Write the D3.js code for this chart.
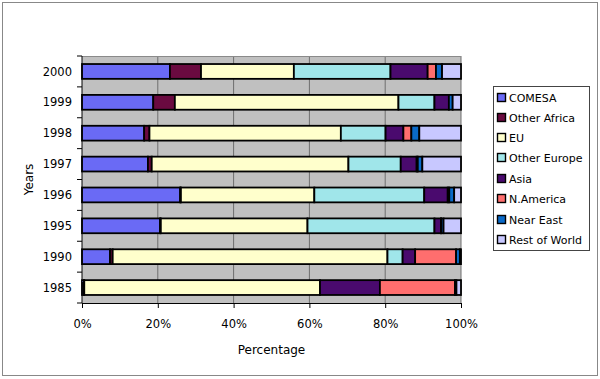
<!DOCTYPE html>
<html>
<head>
<meta charset="utf-8">
<script src="https://cdn.jsdelivr.net/npm/d3@7"></script>
<style>
  body { margin: 0; background: #fff; }
  svg { display: block; font-family: "DejaVu Sans", sans-serif; }
</style>
</head>
<body>
<svg width="600" height="379"></svg>
<script>
"use strict";

var years = ["2000", "1999", "1998", "1997", "1996", "1995", "1990", "1985"];
var regions = ["COMESA", "Other Africa", "EU", "Other Europe", "Asia", "N.America", "Near East", "Rest of World"];
var colours = ["#6a6af5", "#6a0a40", "#ffffcc", "#a0e6ea", "#4a0a6e", "#ff6e6e", "#0a6ac8", "#c8c8ff"];
var xTicks = [0, 0.2, 0.4, 0.6, 0.8, 1];

// percentage share of each region, one array per region, in years order
var comesa      = [23.2, 18.8, 16.4, 17.4, 25.9, 20.6, 7.4, 0.5];
var otherAfrica = [8.2, 5.7, 1.4, 1.0, 0.2, 0.2, 0.7, 0.1];
var eu          = [24.5, 59.0, 50.5, 51.9, 35.2, 38.7, 72.5, 62.2];
var otherEurope = [25.5, 9.5, 11.8, 13.8, 29.0, 33.5, 4.0, 0.0];
var asia        = [9.8, 3.8, 4.7, 4.2, 6.2, 1.7, 3.3, 15.8];
var nAmerica    = [2.2, 0.0, 2.1, 0.3, 0.4, 0.1, 10.8, 19.8];
var nearEast    = [1.6, 1.0, 2.1, 1.2, 1.3, 0.6, 1.0, 0.4];
var restOfWorld = [5.0, 2.2, 11.0, 10.2, 1.8, 4.6, 0.3, 1.2];

var series = [comesa, otherAfrica, eu, otherEurope, asia, nAmerica, nearEast, restOfWorld];

var table = years.map(function (y, i) {
    var row = { year: y };
    regions.forEach(function (r, j) { row[r] = series[j][i]; });
    return row;
});

var stacked = d3.stack().keys(regions).offset(d3.stackOffsetExpand)(table);

var svg = d3.select("svg");

// outer frame
svg.append("rect")
    .attr("x", 2.5).attr("y", 2.5)
    .attr("width", 595).attr("height", 373)
    .attr("fill", "#fff")
    .attr("stroke", "#888")
    .attr("stroke-width", 1);

var plotLeft = 82, plotRight = 461, plotTop = 56, plotBottom = 303;

var x = d3.scaleLinear().domain([0, 1]).range([plotLeft, plotRight]);
var y = d3.scaleBand().domain(years).range([plotTop, plotBottom]).paddingInner(0.52).paddingOuter(0.26);

// plot background
svg.append("rect")
    .attr("x", plotLeft).attr("y", plotTop)
    .attr("width", plotRight - plotLeft).attr("height", plotBottom - plotTop)
    .attr("fill", "#c0c0c0");

// gridlines
svg.append("g")
    .selectAll("line")
    .data(xTicks.slice(1))
    .enter()
    .append("line")
    .attr("x1", function (d) { return x(d); })
    .attr("x2", function (d) { return x(d); })
    .attr("y1", plotTop)
    .attr("y2", plotBottom)
    .attr("stroke", "#6e6e6e")
    .attr("stroke-width", 1);

svg.append("line")
    .attr("x1", plotLeft).attr("x2", plotRight)
    .attr("y1", plotTop + 0.5).attr("y2", plotTop + 0.5)
    .attr("stroke", "#8a8a8a");

// bars
svg.append("g")
    .selectAll("g")
    .data(stacked)
    .enter()
    .append("g")
    .attr("fill", function (d, i) { return colours[i]; })
    .selectAll("rect")
    .data(function (d) { return d; })
    .enter()
    .append("rect")
    .attr("x", function (d) { return x(d[0]); })
    .attr("y", function (d) { return y(d.data.year); })
    .attr("width", function (d) { return Math.max(0, x(d[1]) - x(d[0])); })
    .attr("height", y.bandwidth())
    .attr("stroke", "#000")
    .attr("stroke-width", 1.8);

// y axis: ticks between categories
var yBounds = d3.range(years.length + 1).map(function (i) {
    return plotTop + i * (plotBottom - plotTop) / years.length;
});
svg.append("line")
    .attr("x1", plotLeft).attr("x2", plotLeft)
    .attr("y1", plotTop).attr("y2", plotBottom)
    .attr("stroke", "#000");
svg.append("g")
    .selectAll("line")
    .data(yBounds)
    .enter()
    .append("line")
    .attr("x1", plotLeft - 5).attr("x2", plotLeft)
    .attr("y1", function (d) { return d; })
    .attr("y2", function (d) { return d; })
    .attr("stroke", "#000");
svg.append("g")
    .selectAll("text")
    .data(years)
    .enter()
    .append("text")
    .attr("x", plotLeft - 10)
    .attr("y", function (d) { return y(d) + y.bandwidth() / 2; })
    .attr("dy", "0.36em")
    .attr("text-anchor", "end")
    .attr("font-size", 11.5)
    .text(function (d) { return d; });

// x axis
var xAxis = d3.axisBottom(x)
    .tickValues(xTicks)
    .tickFormat(d3.format(".0%"))
    .tickSize(5)
    .tickPadding(12);
var gx = svg.append("g")
    .attr("transform", "translate(0," + plotBottom + ")")
    .call(xAxis);
gx.select(".domain").attr("stroke", "#000");
gx.selectAll("text")
    .attr("font-size", 11.5)
    .attr("font-family", "DejaVu Sans, sans-serif")
    .attr("fill", "#000");

// axis titles
svg.append("text")
    .attr("x", (plotLeft + plotRight) / 2)
    .attr("y", 354)
    .attr("text-anchor", "middle")
    .attr("font-size", 12)
    .text("Percentage");
svg.append("text")
    .attr("transform", "translate(33," + ((plotTop + plotBottom) / 2) + ") rotate(-90)")
    .attr("text-anchor", "middle")
    .attr("font-size", 12)
    .text("Years");

// legend
var legend = svg.append("g");
legend.append("rect")
    .attr("x", 493.5).attr("y", 86.5)
    .attr("width", 96).attr("height", 164)
    .attr("fill", "#fff")
    .attr("stroke", "#444");
var legendY = [98, 118, 138, 158, 179, 199, 220, 240];
var items = legend.selectAll("g.item")
    .data(regions)
    .enter()
    .append("g")
    .classed("item", true)
    .attr("transform", function (d, i) { return "translate(497," + legendY[i] + ")"; });
items.append("rect")
    .attr("x", 0.5).attr("y", -4.5)
    .attr("width", 8).attr("height", 8)
    .attr("fill", function (d, i) { return colours[i]; })
    .attr("stroke", "#000")
    .attr("stroke-width", 1.4);
items.append("text")
    .attr("x", 12)
    .attr("dy", "0.36em")
    .attr("font-size", 11)
    .text(function (d) { return d; });
</script>
</body>
</html>
